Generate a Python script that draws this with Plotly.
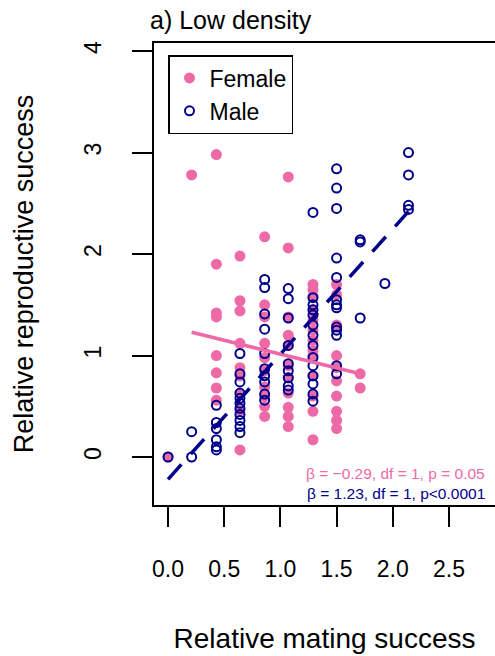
import plotly.graph_objects as go

female_x = ([0.0] + [0.21] + [0.43]*8 + [0.64]*9 + [0.86]*10 + [1.07]*11 + [1.29]*13 + [1.50]*10 + [1.71]*2)
female_y = ([0.0] + [2.78] +
            [2.98, 1.90, 1.42, 1.38, 1.0, 0.83, 0.68, 0.56] +
            [1.98, 1.54, 1.44, 1.12, 0.88, 0.80, 0.62, 0.46, 0.07] +
            [2.17, 1.50, 1.38, 1.12, 0.98, 0.85, 0.69, 0.60, 0.50, 0.40] +
            [2.76, 2.06, 1.38, 1.20, 1.10, 0.90, 0.78, 0.63, 0.49, 0.40, 0.30] +
            [1.70, 1.65, 1.58, 1.45, 1.35, 1.25, 1.15, 1.05, 1.00, 0.80, 0.60, 0.45, 0.17] +
            [1.70, 1.60, 1.30, 1.00, 0.88, 0.75, 0.60, 0.45, 0.36, 0.28] +
            [0.82, 0.68])

male_x = ([0.0] + [0.21]*2 + [0.43]*6 + [0.64]*11 + [0.86]*10 + [1.07]*9 + [1.29]*14 + [1.50]*13 + [1.71]*3 + [1.93] + [2.14]*4)
male_y = ([0.0] + [0.25, 0.0] +
          [0.51, 0.34, 0.28, 0.17, 0.10, 0.07] +
          [1.02, 0.82, 0.74, 0.63, 0.58, 0.53, 0.48, 0.42, 0.36, 0.30, 0.24] +
          [1.75, 1.67, 1.41, 1.26, 1.02, 0.87, 0.80, 0.74, 0.62, 0.56] +
          [1.66, 1.56, 1.37, 1.10, 0.92, 0.85, 0.78, 0.70, 0.66] +
          [2.41, 1.57, 1.50, 1.45, 1.40, 1.30, 1.20, 1.10, 0.98, 0.90, 0.80, 0.72, 0.62, 0.55] +
          [2.84, 2.65, 2.45, 1.96, 1.77, 1.55, 1.50, 1.47, 1.28, 1.25, 1.20, 0.90, 0.82] +
          [2.14, 2.12, 1.37] + [1.71] + [3.0, 2.78, 2.48, 2.44])

female_fit_x = [0.21, 1.71]
female_fit_y = [1.23, 0.82]
male_fit_x = [0.0, 2.14]
male_fit_y = [-0.22, 2.42]

pink = "#EE6AA7"
navy = "#00008B"

fig = go.Figure()
fig.add_trace(go.Scatter(x=female_x, y=female_y, mode="markers", name="Female",
                         marker=dict(color=pink, size=11, line=dict(width=0))))
fig.add_trace(go.Scatter(x=male_x, y=male_y, mode="markers", name="Male",
                         marker=dict(symbol="circle-open", color=navy, size=9, line=dict(width=2))))
fig.add_trace(go.Scatter(x=female_fit_x, y=female_fit_y, mode="lines", showlegend=False,
                         line=dict(color=pink, width=3.5)))
fig.add_trace(go.Scatter(x=male_fit_x, y=male_fit_y, mode="lines", showlegend=False,
                         line=dict(color=navy, width=3.5, dash="20px,14px")))

W, H = 495, 656
L, T, B = 154, 43, 505
tick_font = dict(size=23, family="Liberation Sans, Arial", color="black")
fig.update_layout(
    width=W, height=H, plot_bgcolor="white", paper_bgcolor="white",
    margin=dict(l=L, r=0, t=T, b=H - B, autoexpand=False),
    font=dict(family="Liberation Sans, Arial", color="black", size=22),
    title=dict(text="a) Low density", x=150/W, xanchor="left", y=1-20/H, yanchor="middle",
               font=dict(size=25)),
    legend=dict(x=14/(W-L), y=1-12/(B-T), xanchor="left", yanchor="top", bordercolor="black",
                borderwidth=1.5, bgcolor="white", font=dict(size=23), itemwidth=30,
                tracegroupgap=0),
    xaxis=dict(range=[-0.125, 2.91], tickvals=[0, 0.5, 1, 1.5, 2, 2.5],
               ticktext=["0.0", "0.5", "1.0", "1.5", "2.0", "2.5"], automargin=False,
               showline=True, mirror=True, linecolor="black", linewidth=2,
               ticks="outside", ticklen=20, tickwidth=2, tickcolor="black", tickfont=tick_font,
               ticklabelstandoff=22, showgrid=False, zeroline=False,
               title=dict(text="Relative mating success", font=dict(size=28), standoff=48)),
    yaxis=dict(range=[-0.473, 4.08], tickvals=[0, 1, 2, 3, 4], tickangle=-90, automargin=False,
               showline=True, linecolor="black", linewidth=2,
               ticks="outside", ticklen=20, tickwidth=2, tickcolor="black", tickfont=tick_font,
               ticklabelstandoff=22, showgrid=False, zeroline=False,
               title=dict(text="Relative reproductive success", font=dict(size=27), standoff=38)),
)
fig.add_annotation(text="β = −0.29, df = 1, p = 0.05", xref="paper", yref="paper",
                   x=(487-L)/(W-L), y=(B-473)/(B-T), xanchor="right", yanchor="middle",
                   showarrow=False, font=dict(size=15.5, color=pink))
fig.add_annotation(text="β = 1.23, df = 1, p<0.0001", xref="paper", yref="paper",
                   x=(487-L)/(W-L), y=(B-493)/(B-T), xanchor="right", yanchor="middle",
                   showarrow=False, font=dict(size=15.5, color=navy))
fig.write_html("out.html", config={"displayModeBar": False},
               post_script="document.body.style.margin='0';document.body.style.overflow='hidden';")
